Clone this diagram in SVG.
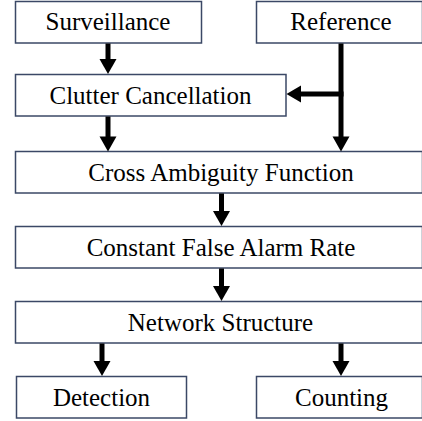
<svg xmlns="http://www.w3.org/2000/svg" width="422" height="421" viewBox="0 0 422 421">
<style>
.box{fill:#fff;stroke:#3b4866;stroke-width:1.5}
.lbl{font-family:"Liberation Serif","Times New Roman",serif;font-size:25px;fill:#000;text-anchor:middle}
.con{stroke:#000;stroke-width:5;fill:none}
.head{fill:#000}
</style>
<rect width="422" height="421" fill="#fff"/>
<g id="n-surveillance"><rect class="box" x="15.5" y="1.5" width="186" height="41.5"/><text class="lbl" x="108" y="30">Surveillance</text></g>
<g id="n-reference"><rect class="box" x="256.5" y="1.5" width="166" height="41.5"/><text class="lbl" x="341" y="30">Reference</text></g>
<g id="n-clutter"><rect class="box" x="15.5" y="74.5" width="270.5" height="41.5"/><text class="lbl" x="150.5" y="103.5">Clutter Cancellation</text></g>
<g id="n-caf"><rect class="box" x="15.5" y="151.5" width="407" height="41.5"/><text class="lbl" x="221" y="181">Cross Ambiguity Function</text></g>
<g id="n-cfar"><rect class="box" x="15.5" y="226.5" width="407" height="41.5"/><text class="lbl" x="221" y="255.5">Constant False Alarm Rate</text></g>
<g id="n-network"><rect class="box" x="15.5" y="301.5" width="407" height="41.5"/><text class="lbl" x="220.5" y="331">Network Structure</text></g>
<g id="n-detection"><rect class="box" x="16.5" y="376.5" width="170" height="41.5"/><text class="lbl" x="101.5" y="406">Detection</text></g>
<g id="n-counting"><rect class="box" x="256.5" y="376.5" width="166" height="41.5"/><text class="lbl" x="341.5" y="406">Counting</text></g>
<g id="connectors">
<path class="con" d="M108,43.5 V60"/><path class="head" d="M99.5,59 H116.5 L108,74 Z"/>
<path class="con" d="M341,43.5 V138"/><path class="head" d="M332.5,136.5 H349.5 L341,151.5 Z"/>
<path class="con" d="M343.5,94 H299"/><path class="head" d="M301,85.5 V102.5 L286.5,94 Z"/>
<path class="con" d="M108,116.5 V138"/><path class="head" d="M99.5,136.5 H116.5 L108,151.5 Z"/>
<path class="con" d="M221.5,193.5 V212"/><path class="head" d="M213,211 H230 L221.5,226 Z"/>
<path class="con" d="M221.5,268.5 V287"/><path class="head" d="M213,286 H230 L221.5,301 Z"/>
<path class="con" d="M102,343.5 V362"/><path class="head" d="M93.5,361 H110.5 L102,376 Z"/>
<path class="con" d="M341,343.5 V362"/><path class="head" d="M332.5,361 H349.5 L341,376 Z"/>
</g>
</svg>
